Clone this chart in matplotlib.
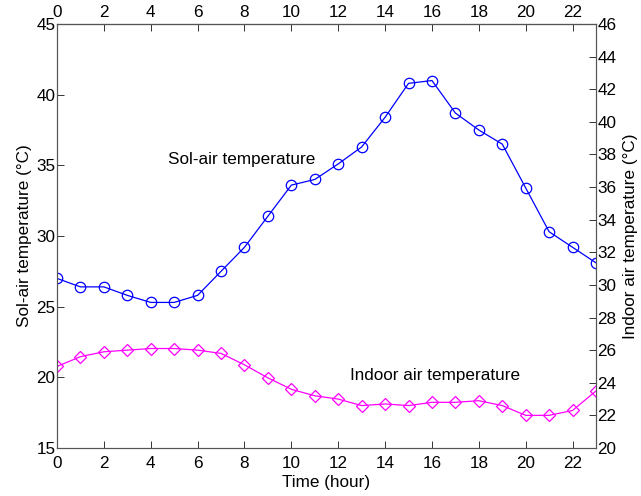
import matplotlib.pyplot as plt
import numpy as np

plt.rcParams['font.family'] = ['Liberation Sans', 'DejaVu Sans']

# hourly values
hours = np.arange(0, 24)
sol_air = [27.0, 26.4, 26.4, 25.8, 25.3, 25.3, 25.8, 27.5, 29.2, 31.4, 33.6, 34.0,
           35.1, 36.3, 38.4, 40.8, 41.0, 38.7, 37.5, 36.5, 33.4, 30.3, 29.2, 28.1]
indoor = [25.0, 25.6, 25.9, 26.0, 26.1, 26.1, 26.0, 25.8, 25.1, 24.3, 23.6, 23.2,
          23.0, 22.6, 22.7, 22.6, 22.8, 22.8, 22.9, 22.6, 22.0, 22.0, 22.3, 23.5]
xticks = np.arange(0, 23, 2)

fs = 12.3
fig = plt.figure(figsize=(6.41, 4.96), dpi=100)
ax = fig.add_axes([0.0889, 0.0968, 0.8409, 0.8548])
ax2 = ax.twinx()

ax.plot(hours, sol_air, color='#0000ff', lw=0.9, marker='o', ms=7.5, mfc='none', mew=0.9)
ax2.plot(hours, indoor, color='#ff00ff', lw=0.9, marker='D', ms=6.5, mfc='none', mew=0.9)

ax.set_xlim(0, 23)
ax.set_ylim(15, 45)
ax2.set_ylim(20, 46)
ax.set_xticks(xticks)
ax.set_yticks(np.arange(15, 46, 5))
ax2.set_yticks(np.arange(20, 47, 2))

# top axis with its own labels
top = ax.secondary_xaxis('top')
top.set_xticks(xticks)
top.tick_params(direction='in', length=5, width=0.7, labelsize=fs, colors='#333333',
                labelcolor='black', pad=3)
top.spines['top'].set_color('#555555')
top.spines['top'].set_linewidth(0.8)

ax.tick_params(axis='x', direction='in', length=5, width=0.7, labelsize=fs,
               colors='#333333', labelcolor='black', pad=6)
ax.tick_params(axis='y', direction='in', length=5, width=0.7, labelsize=fs,
               colors='#333333', labelcolor='black', pad=1)
ax2.tick_params(direction='in', length=5, width=0.7, labelsize=fs,
                colors='#333333', labelcolor='black', pad=1)
for a in (ax, ax2):
    for s in a.spines.values():
        s.set_color('#555555')
        s.set_linewidth(0.8)

ax.set_xlabel('Time (hour)', fontsize=fs, labelpad=3)
ax.set_ylabel('Sol-air temperature (\u00b0C)', fontsize=fs, labelpad=3)
ax2.set_ylabel('Indoor air temperature (\u00b0C)', fontsize=fs, labelpad=5)

ax.text(4.75, 35.4, 'Sol-air temperature', fontsize=fs, va='center')
ax.text(12.5, 20.1, 'Indoor air temperature', fontsize=fs, va='center')

fig.savefig('out.png', dpi=100)
